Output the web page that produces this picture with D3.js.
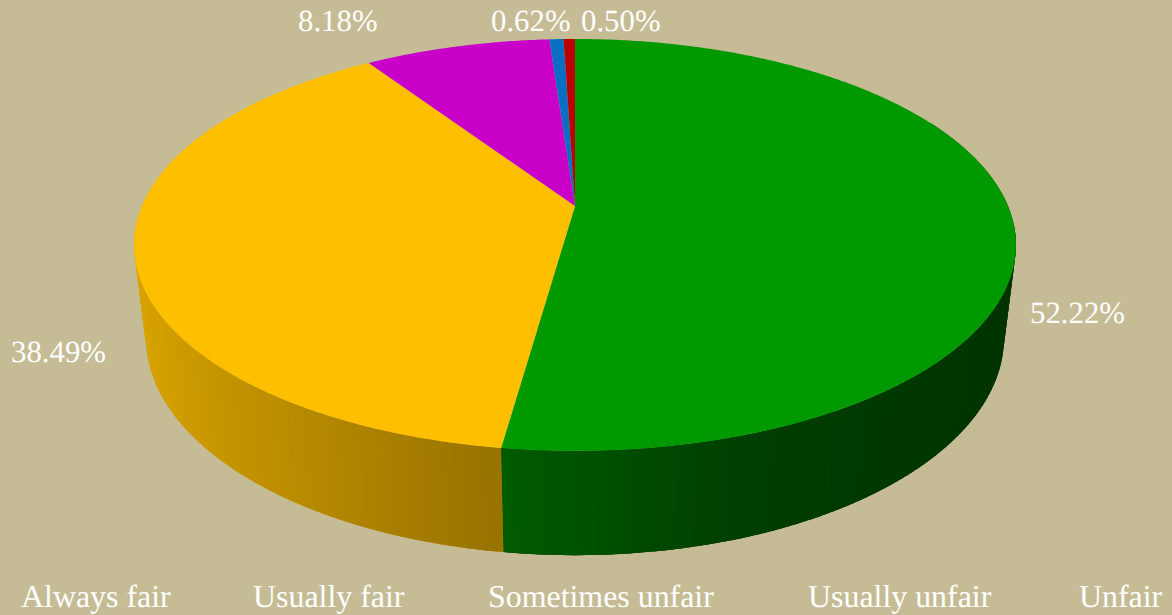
<!DOCTYPE html>
<html>
<head>
	<meta charset='utf-8'>
	<title>Fairness pie</title>
	<style>
		html, body {margin: 0; padding: 0; background: #c5bc96}
		svg {display: block}
		text {font-family: "Liberation Serif", serif; fill: #ffffff; text-rendering: geometricPrecision}
		.value {font-size: 30.8px}
		.legend {font-size: 31.9px}
	</style>
</head>
<body>
	<script src='https://d3js.org/d3.v7.min.js'></script>
	<script>
		var categories = ["Always fair", "Usually fair", "Sometimes unfair", "Usually unfair", "Unfair"];
		var values = [52.22, 38.49, 8.18, 0.62, 0.50];
		var valueLabels = ["52.22%", "38.49%", "8.18%", "0.62%", "0.50%"];
		var colors = ["#009900", "#fdbf00", "#c800c8", "#0a6fc2", "#bb0000"];

		var svg_w = 1172, svg_h = 615;
		var svg = d3.select('body').append('svg').attr('width', svg_w).attr('height', svg_h);
		svg.append('rect').attr('width', svg_w).attr('height', svg_h).attr('fill', '#c5bc96');

		// perspective of the disc: u,v on unit circle, h = 0 top face, 1 bottom face
		var cx = 575, cy = 206, R = 433, persp = -0.189, vy = 198.6, depth = 94, depthW = 0.027;
		function project(angle, r, h) {
			var u = Math.sin(angle) * r, v = -Math.cos(angle) * r;
			var w = 1 + persp * v + depthW * h;
			return [cx + R * u / w, cy + (vy * v + depth * h) / w];
		}

		var pie = d3.pie().sort(null).value(function(d) {return d;});
		var arcs = pie(values);
		var color = d3.scaleOrdinal().domain(d3.range(values.length)).range(colors);
		var line = d3.line();
		var step = Math.PI / 180;

		// side brightness by facing direction (sin of the angle)
		var sideShade = d3.scaleLinear().domain([-1, -0.14, 0.33, 1]).range([0.87, 0.6, 0.4, 0.33]);

		function shaded(index, angle) {
			var c = d3.rgb(color(index));
			var f = sideShade(Math.sin(angle));
			return d3.rgb(c.r * f, c.g * f, c.b * f).formatHex();
		}

		function sideQuad(a0, a1) {
			var pts = [];
			d3.range(a0, a1, step).concat([a1]).forEach(function(t) {pts.push(project(t, 1, 0));});
			d3.range(a0, a1, step).concat([a1]).reverse().forEach(function(t) {pts.push(project(t, 1, 1));});
			return line(pts) + 'Z';
		}

		// flat underlay so the facet joins do not show the background
		var frontArcs = arcs.filter(function(a) {return a.index < 2;});
		svg.append('g').selectAll('path')
			.data(frontArcs)
			.enter().append('path')
			.attr('d', function(d) {return sideQuad(Math.max(d.startAngle, Math.PI * 0.35), Math.min(d.endAngle, Math.PI * 1.65));})
			.attr('fill', function(d) {return shaded(d.index, (d.startAngle + d.endAngle) / 2);});

		// side facets, back to front, each one running a bit past its neighbours
		var facets = [];
		arcs.forEach(function(a) {
			for (var t = a.startAngle; t < a.endAngle; t += step) {
				var t2 = Math.min(t + step, a.endAngle);
				var mid = (t + t2) / 2;
				if (-Math.cos(mid) > 0.1) {
					facets.push({
						a0: Math.max(a.startAngle, t - step * 0.3),
						a1: Math.min(a.endAngle, t2 + step * 0.3),
						mid: mid, index: a.index
					});
				}
			}
		});
		facets.sort(function(p, q) {return -Math.cos(p.mid) - -Math.cos(q.mid);});

		svg.append('g').selectAll('path')
			.data(facets)
			.enter().append('path')
			.attr('d', function(d) {return sideQuad(d.a0, d.a1);})
			.attr('fill', function(d) {return shaded(d.index, d.mid);});

		// top face
		svg.append('g').selectAll('path')
			.data(arcs)
			.enter().append('path')
			.attr('d', function(d) {
				var n = Math.max(2, Math.ceil((d.endAngle - d.startAngle) / (step / 2)));
				var pts = [project(0, 0, 0)];
				d3.range(n + 1).forEach(function(i) {
					pts.push(project(d.startAngle + (d.endAngle - d.startAngle) * i / n, 1, 0));
				});
				return line(pts) + 'Z';
			})
			.attr('fill', function(d) {return color(d.index);});

		// text placement
		var valueLabelPos = [[1030, 323], [11, 362], [298, 31], [491, 31], [581, 31]];
		var legendX = [21, 253, 488, 808, 1079];

		svg.append('g').selectAll('text')
			.data(valueLabels)
			.enter().append('text')
			.attr('class', 'value')
			.attr('x', function(d, i) {return valueLabelPos[i][0];})
			.attr('y', function(d, i) {return valueLabelPos[i][1];})
			.text(function(d) {return d;});

		svg.append('g').selectAll('text')
			.data(categories)
			.enter().append('text')
			.attr('class', 'legend')
			.attr('x', function(d, i) {return legendX[i];})
			.attr('y', 607)
			.text(function(d) {return d;});
	</script>
</body>
</html>
